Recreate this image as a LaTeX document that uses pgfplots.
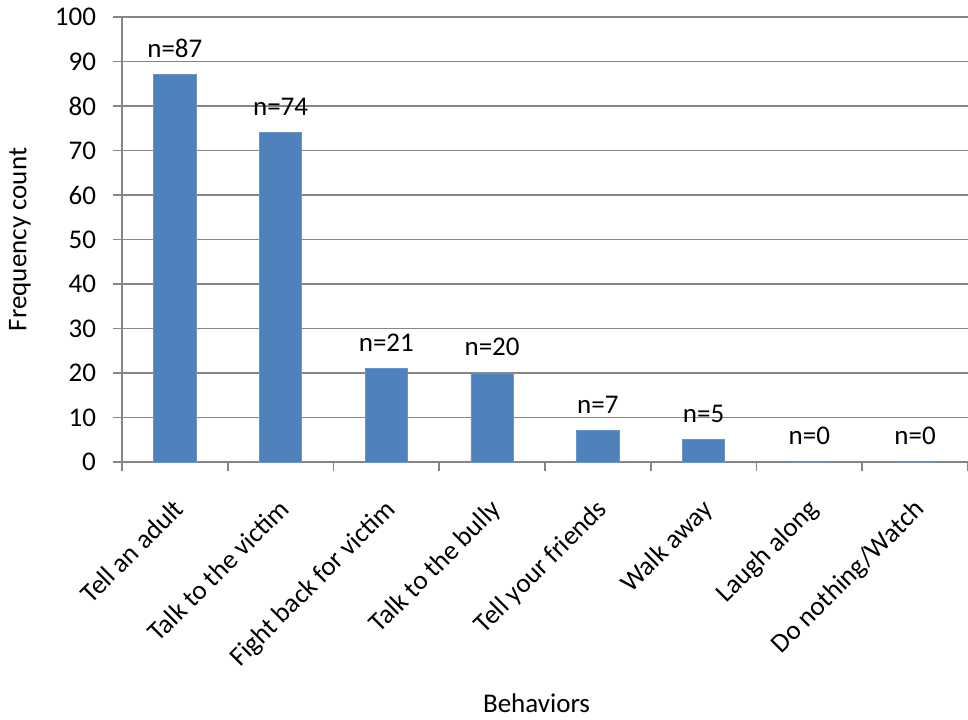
\documentclass[border=0pt]{standalone}
\usepackage{pgfplots}
\pgfplotsset{compat=1.18}
\usepackage{fontspec}
\setmainfont{Carlito}
\definecolor{barblue}{HTML}{4F81BD}
\definecolor{gridgray}{HTML}{868686}
\begin{document}
\begin{tikzpicture}[font=\fontsize{13.5}{16}\selectfont]
\useasboundingbox (0,0) rectangle (484pt,359.5pt);
\begin{axis}[
  at={(61pt,128.5pt)}, anchor=south west,
  scale only axis,
  width=423pt, height=222.5pt,
  xmin=-0.5, xmax=7.5,
  ymin=0, ymax=100,
  ytick={0,10,...,100},
  axis lines*=left,
  axis line style={gridgray, line width=0.8pt},
  ymajorgrids,
  grid style={gridgray, line width=0.8pt},
  tick style={gridgray, line width=0.8pt},
  tick align=outside,
  major tick length=4.5pt,
  xtick={0,...,7},
  xticklabels={Tell an adult, Talk to the victim, Fight back for victim, Talk to the bully, Tell your friends, Walk away, Laugh along, Do nothing/Watch},
  x tick style={draw=none},
  xticklabel style={xshift=-1.5pt, yshift=-13pt, rotate=45, anchor=north east, inner sep=0pt},
  yticklabel style={xshift=-5pt},
  extra x ticks={-0.5,0.5,1.5,2.5,3.5,4.5,5.5,6.5,7.5},
  extra x tick labels={},
  extra x tick style={grid=none, x tick style={draw=gridgray}},
  /pgf/number format/assume math mode=true,
  ylabel={Frequency count},
  xlabel={Behaviors},
  ylabel style={at={(axis description cs:0,0.5)}, anchor=center, yshift=51pt},
  xlabel style={at={(axis description cs:0.49,0)}, anchor=center, yshift=-120.5pt},
  ybar, bar width=21.2pt,
  nodes near coords={n=\pgfmathprintnumber{\pgfplotspointmeta}},
  nodes near coords style={black, yshift=5pt},
  clip=false,
]
\addplot[fill=barblue, draw=barblue!85!white] coordinates {(0,87) (1,74) (2,21) (3,20) (4,7) (5,5) (6,0) (7,0)};
\end{axis}
\end{tikzpicture}
\end{document}
